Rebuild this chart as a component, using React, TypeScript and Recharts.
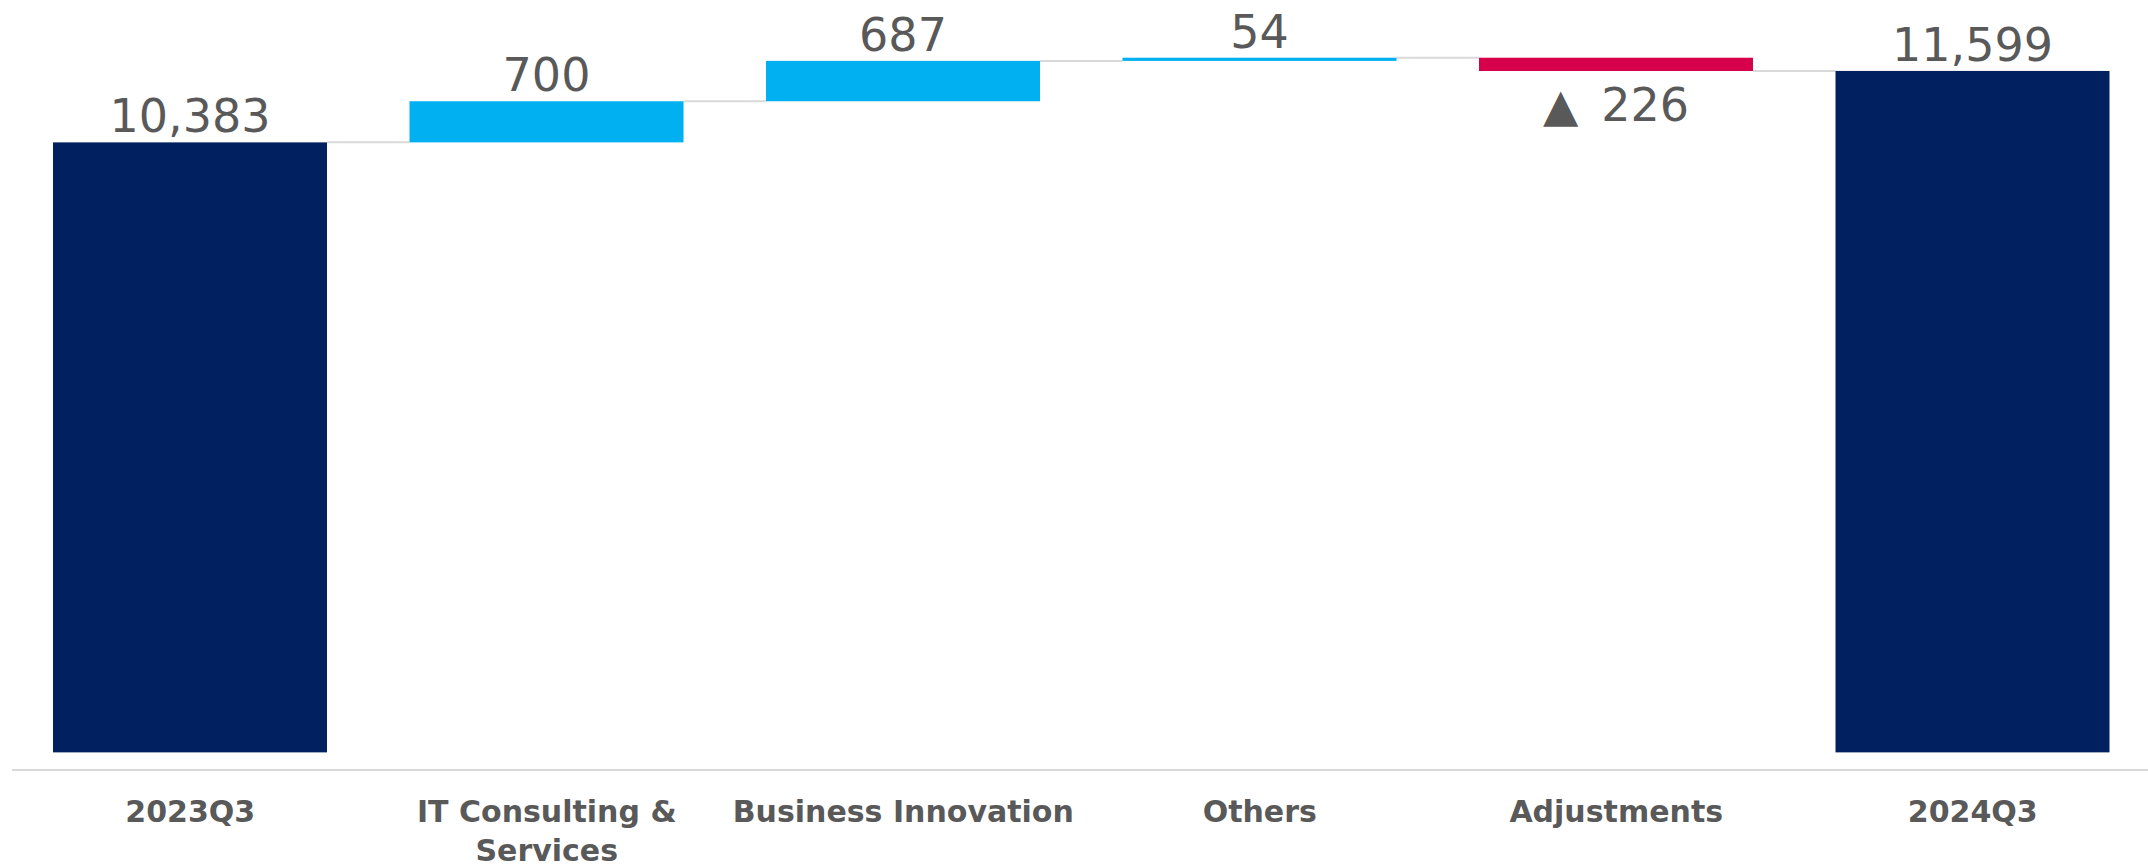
import React from 'react';
import { BarChart, Bar, XAxis, YAxis } from 'recharts';

const categories = ['2023Q3', 'IT Consulting & Services', 'Business Innovation', 'Others', 'Adjustments', '2024Q3'];
const values = [10383, 700, 687, 54, -226, 11599];
const kinds = ['total', 'delta', 'delta', 'delta', 'delta', 'total'];

const COLORS = { total: '#002060', pos: '#00B0F0', neg: '#D7004B' };
const TEXT = '#595959';
const GRID = '#D9D9D9';

const W = 2148;
const H = 868;
const MARGIN = { top: 18, right: -3, bottom: 8, left: 12 };
const CAT_W = (W - MARGIN.left - MARGIN.right) / categories.length;

type Row = { name: string; range: [number, number]; value: number; kind: string };

const rows: Row[] = (() => {
  let running = 0;
  return categories.map((name, i) => {
    const v = values[i];
    if (kinds[i] === 'total') {
      running = v;
      return { name, range: [0, v] as [number, number], value: v, kind: 'total' };
    }
    const start = running;
    running += v;
    return {
      name,
      range: [Math.min(start, running), Math.max(start, running)] as [number, number],
      value: v,
      kind: v >= 0 ? 'pos' : 'neg',
    };
  });
})();

const WaterfallShape = (props: any) => {
  const { x, y, width, height, index } = props;
  const d = rows[index];
  const h = Math.max(Math.abs(height), 1.5);
  const top = height < 0 ? y + height : y;
  const endY = d.kind === 'neg' ? top + Math.abs(height) : top;
  const hasNext = index < rows.length - 1;
  return (
    <g>
      {hasNext && (
        <line x1={x + width} x2={x + CAT_W} y1={endY} y2={endY} stroke={GRID} strokeWidth={2} />
      )}
      <rect x={x} y={top} width={width} height={h} fill={COLORS[d.kind as keyof typeof COLORS]} />
    </g>
  );
};

const ValueLabel = (props: any) => {
  const { x, y, width, height, index } = props;
  const d = rows[index];
  const cx = x + width / 2;
  const top = height < 0 ? y + height : y;
  const bottom = top + Math.abs(height);
  if (d.kind === 'neg') {
    return (
      <text x={cx} y={bottom + 50} textAnchor="middle" fill={TEXT} fontSize={46} fontFamily="DejaVu Sans">
        {'▲\u2002' + Math.abs(d.value).toLocaleString('en-US')}
      </text>
    );
  }
  return (
    <text x={cx} y={top - 10} textAnchor="middle" fill={TEXT} fontSize={46} fontFamily="DejaVu Sans">
      {d.value.toLocaleString('en-US')}
    </text>
  );
};

const wrapLabel = (s: string, budget: number) => {
  const words = s.split(' ');
  const lines: string[] = [];
  let cur = '';
  words.forEach((w) => {
    const next = cur ? cur + ' ' + w : w;
    if (next.length > budget && cur) {
      lines.push(cur);
      cur = w;
    } else {
      cur = next;
    }
  });
  if (cur) lines.push(cur);
  return lines;
};

const CategoryTick = (props: any) => {
  const { x, y, payload } = props;
  const lines = wrapLabel(String(payload.value), 20);
  return (
    <g>
      {lines.map((ln, i) => (
        <text
          key={i}
          x={x}
          y={y + 52 + i * 39}
          textAnchor="middle"
          fill={TEXT}
          fontSize={30}
          fontWeight="bold"
          fontFamily="DejaVu Sans"
        >
          {ln}
        </text>
      ))}
    </g>
  );
};

export default function App() {
  return (
    <div style={{ position: 'absolute', left: 0, top: 0, width: W, height: H, background: '#fff' }}>
      <BarChart width={W} height={H} data={rows} margin={MARGIN} barSize={274}>
        <XAxis
          dataKey="name"
          interval={0}
          tickLine={false}
          tickSize={0}
          tickMargin={0}
          height={90}
          axisLine={{ stroke: GRID, strokeWidth: 2 }}
          tick={<CategoryTick />}
        />
        <YAxis hide domain={[-300, 12500]} allowDataOverflow />
        <Bar
          dataKey="range"
          isAnimationActive={false}
          shape={(p: any) => <WaterfallShape {...p} />}
          label={(p: any) => <ValueLabel {...p} />}
        />
      </BarChart>
    </div>
  );
}
